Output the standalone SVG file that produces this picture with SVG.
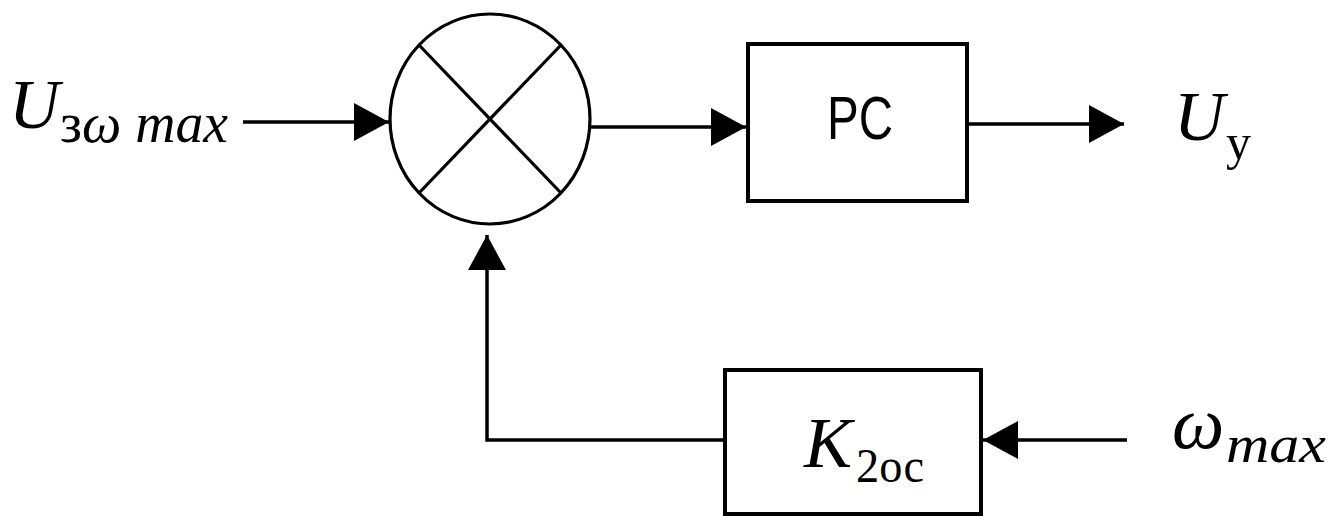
<svg xmlns="http://www.w3.org/2000/svg" width="1344" height="516" viewBox="0 0 1344 516">
<style>
.ln{stroke:#000;stroke-width:3.5;fill:none}
.bx{stroke:#000;stroke-width:4;fill:#fff}
.mi{font-family:"Liberation Serif","DejaVu Serif",serif;font-style:italic;fill:#000}
.mu{font-family:"Liberation Serif","DejaVu Serif",serif;font-style:normal;fill:#000}
.sn{font-family:"Liberation Sans","Open Sans",sans-serif;fill:#000}
</style>
<defs>
<marker id="ah" markerUnits="userSpaceOnUse" markerWidth="36" markerHeight="38" refX="35" refY="19" orient="auto">
<path d="M0,0 L35,19 L0,38 Z" fill="#000"/>
</marker>
</defs>
<rect width="1344" height="516" fill="#fff"/>
<g id="connectors">
<line class="ln" x1="243" y1="122" x2="389" y2="122" marker-end="url(#ah)"/>
<line class="ln" x1="590" y1="127" x2="746" y2="127" marker-end="url(#ah)"/>
<line class="ln" x1="967" y1="124" x2="1124" y2="124" marker-end="url(#ah)"/>
<polyline class="ln" points="724,440 487,440 487,235" marker-end="url(#ah)"/>
<line class="ln" x1="1127" y1="440" x2="983" y2="440" marker-end="url(#ah)"/>
</g>
<g id="sum">
<ellipse cx="490" cy="119" rx="100" ry="105" fill="none" stroke="#000" stroke-width="3.2"/>
<line x1="419" y1="45" x2="561" y2="193" stroke="#000" stroke-width="3.2"/>
<line x1="561" y1="45" x2="419" y2="193" stroke="#000" stroke-width="3.2"/>
</g>
<g id="pc">
<rect class="bx" x="748" y="44" width="219" height="157"/>
<text class="sn" x="827" y="139" font-size="62" textLength="66" lengthAdjust="spacingAndGlyphs">PC</text>
</g>
<g id="k2oc">
<rect class="bx" x="725" y="370" width="256" height="144"/>
<text class="mi" x="804" y="467" font-size="72">K</text>
<text class="mu" x="856" y="482" font-size="48" textLength="68" lengthAdjust="spacingAndGlyphs">2ос</text>
</g>
<g id="in-label">
<text class="mi" x="9" y="128" font-size="70">U</text>
<text x="60" y="142" font-size="56" textLength="168" lengthAdjust="spacingAndGlyphs"><tspan class="mu">з</tspan><tspan class="mi">ω max</tspan></text>
</g>
<g id="out-label">
<text class="mi" x="1174" y="140" font-size="70">U</text>
<text class="mu" x="1226" y="159" font-size="50">у</text>
</g>
<g id="w-label">
<text class="mi" x="1172" y="448" font-size="74">ω</text>
<text class="mi" x="1226" y="462" font-size="52" textLength="100" lengthAdjust="spacingAndGlyphs">max</text>
</g>
</svg>
